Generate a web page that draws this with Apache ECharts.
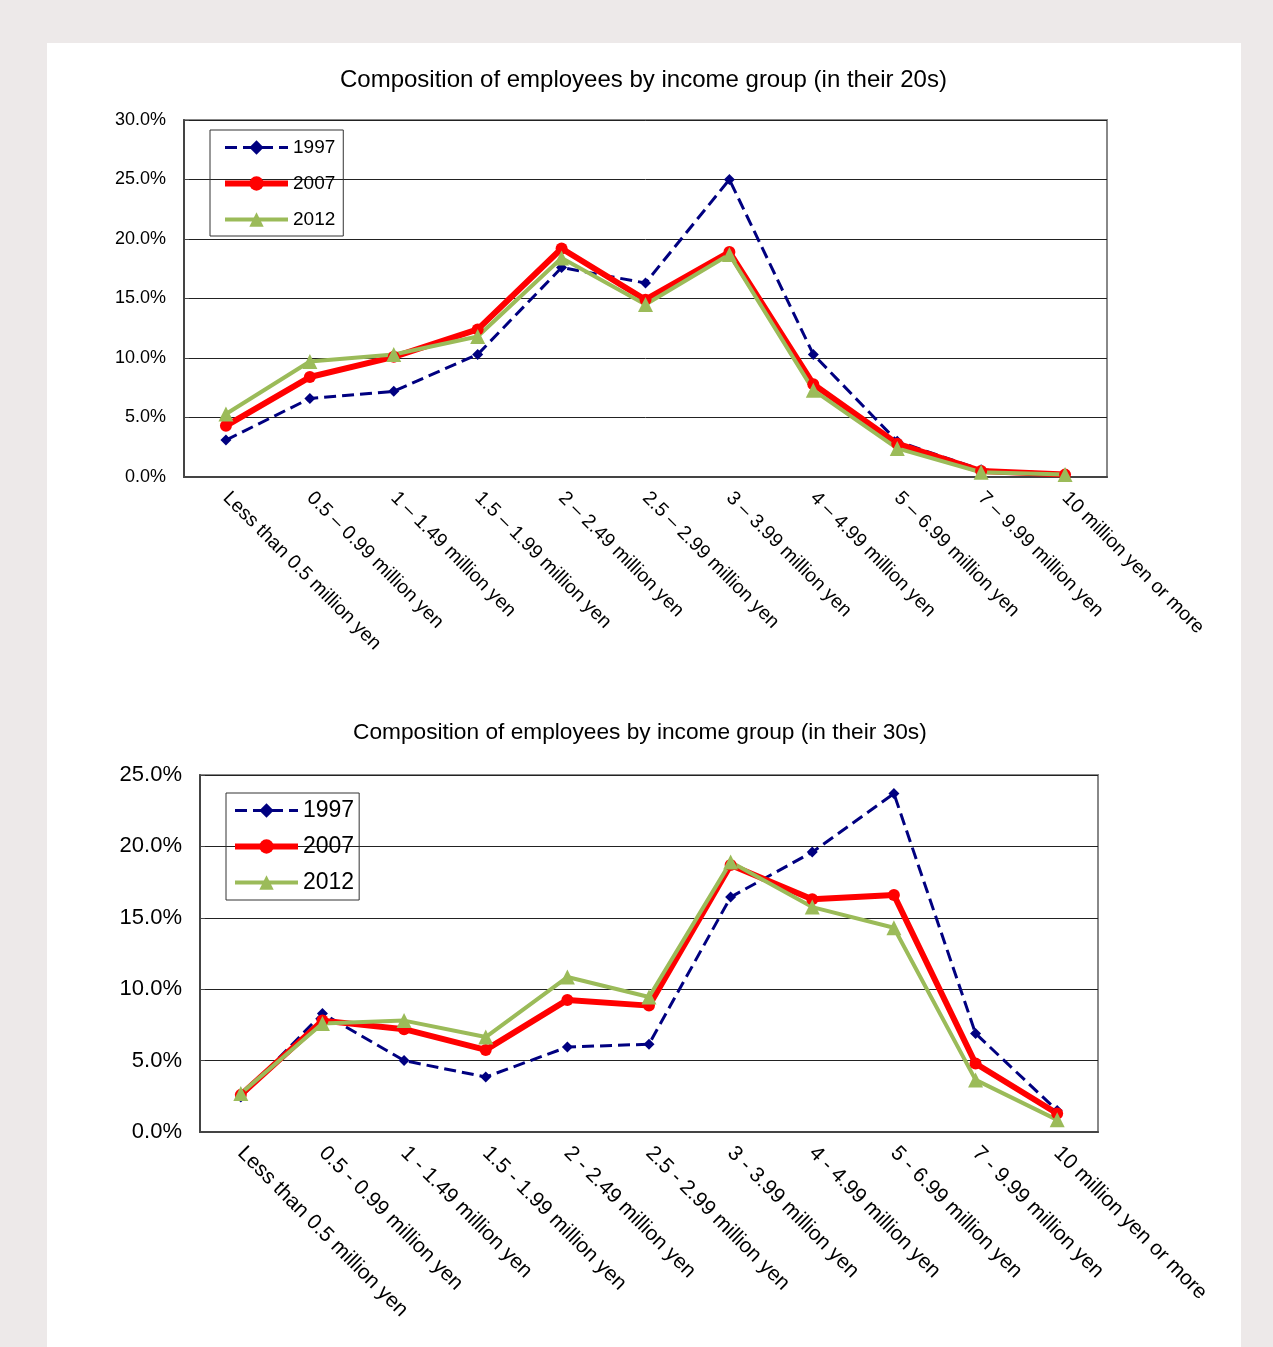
<!DOCTYPE html>
<html>
<head>
<meta charset="utf-8">
<script src="https://cdn.jsdelivr.net/npm/echarts@6/dist/echarts.min.js"></script>
<style>
  html, body { margin: 0; padding: 0; background: #ede9e9; }
  #panel { position: absolute; left: 47px; top: 43px; width: 1194px; height: 1304px; background: #fff; }
  #chart { position: absolute; left: 0; top: 0; width: 1273px; height: 1347px; }
</style>
</head>
<body>
<div id="panel"></div>
<div id="chart"></div>
<script>
// income groups (x axis)
var categories = [
    'Less than 0.5 million yen', '0.5 \u2013 0.99 million yen', '1 \u2013 1.49 million yen',
    '1.5 \u2013 1.99 million yen', '2 \u2013 2.49 million yen', '2.5 \u2013 2.99 million yen',
    '3 \u2013 3.99 million yen', '4 \u2013 4.99 million yen', '5 \u2013 6.99 million yen',
    '7 \u2013 9.99 million yen', '10 million yen or more'
];
var categories30 = categories.map(function (c) { return c.replace(' \u2013 ', ' - '); });

var years = ['1997', '2007', '2012'];

// in their 20s (%)
var twenties1997 = [3.1, 6.6, 7.2, 10.3, 17.6, 16.3, 25.0, 10.3, 3.0, 0.6, 0.25];
var twenties2007 = [4.3, 8.4, 10.1, 12.4, 19.2, 14.9, 18.9, 7.8, 2.8, 0.5, 0.2];
var twenties2012 = [5.3, 9.7, 10.3, 11.8, 18.4, 14.5, 18.7, 7.3, 2.4, 0.4, 0.2];

// in their 30s (%)
var thirties1997 = [2.45, 8.3, 5.0, 3.85, 5.95, 6.15, 16.45, 19.6, 23.7, 6.9, 1.5];
var thirties2007 = [2.6, 7.8, 7.2, 5.75, 9.25, 8.85, 18.7, 16.3, 16.6, 4.8, 1.3];
var thirties2012 = [2.7, 7.6, 7.8, 6.65, 10.85, 9.45, 18.9, 15.75, 14.3, 3.65, 0.85];

var titles = [
    'Composition of employees by income group (in their 20s)',
    'Composition of employees by income group (in their 30s)'
];

var chart = echarts.init(document.getElementById('chart'));
var font = 'Liberation Sans, Arial, sans-serif';

var styles = [
    { color: '#000080', width: 3, type: 'dashed', symbol: 'diamond', size: 11 },
    { color: '#ff0000', width: 6, type: 'solid', symbol: 'circle', size: 12 },
    { color: '#9bbb59', width: 4, type: 'solid', symbol: 'triangle', size: 15 }
];

function makeSeries(idx, data) {
    return data.map(function (d, i) {
        var s = styles[i];
        return {
            name: years[i],
            type: 'line',
            xAxisIndex: idx,
            yAxisIndex: idx,
            data: d,
            symbol: s.symbol,
            symbolSize: s.size,
            showAllSymbol: true,
            lineStyle: { color: s.color, width: s.width, type: s.type },
            itemStyle: { color: s.color },
            animation: false
        };
    });
}

function legendData() {
    return years.map(function (y, i) {
        var s = styles[i];
        return { name: y, lineStyle: { width: s.width, type: s.type, color: s.color } };
    });
}

function xAxis(idx, labels, fs) {
    return {
        type: 'category',
        gridIndex: idx,
        data: labels,
        boundaryGap: true,
        axisLine: { lineStyle: { color: '#444', width: 2 } },
        axisTick: { inside: true, length: 5, lineStyle: { color: '#444', width: 1.5 } },
        axisLabel: { rotate: -45, interval: 0, margin: 18, color: '#000', fontSize: fs, fontFamily: font }
    };
}

function yAxis(idx, max, fs) {
    return {
        type: 'value',
        gridIndex: idx,
        min: 0,
        max: max,
        interval: 5,
        axisLine: { show: true, lineStyle: { color: '#444', width: 2 } },
        axisTick: { show: true, inside: true, length: 5, lineStyle: { color: '#444' } },
        splitLine: { lineStyle: { color: '#222', width: 1 } },
        axisLabel: {
            color: '#000', fontSize: fs, fontFamily: font, margin: 18,
            formatter: function (v) { return v.toFixed(1) + '%'; }
        }
    };
}

var option = {
    backgroundColor: 'transparent',
    title: [
        { text: titles[0], left: 335, top: 63, textStyle: { fontSize: 24, fontWeight: 'normal', color: '#000', fontFamily: font } },
        { text: titles[1], left: 348, top: 716, textStyle: { fontSize: 22.7, fontWeight: 'normal', color: '#000', fontFamily: font } }
    ],
    legend: [
        {
            data: legendData(), orient: 'vertical', left: 210, top: 130,
            itemWidth: 63, itemHeight: 18, itemGap: 17,
            padding: [8, 8, 7, 12],
            borderColor: '#333', borderWidth: 1,
            textStyle: { fontSize: 19, color: '#000', fontFamily: font },
            selectedMode: false
        },
        {
            data: legendData(), orient: 'vertical', left: 226, top: 793,
            itemWidth: 63, itemHeight: 18, itemGap: 13,
            padding: [6, 5, 6, 6],
            borderColor: '#333', borderWidth: 1,
            textStyle: { fontSize: 23, color: '#000', fontFamily: font },
            selectedMode: false
        }
    ],
    grid: [
        { left: 184, top: 120, width: 923, height: 357, show: true, borderColor: '#888', borderWidth: 2, backgroundColor: 'transparent' },
        { left: 200, top: 775, width: 898, height: 357, show: true, borderColor: '#888', borderWidth: 2, backgroundColor: 'transparent' }
    ],
    xAxis: [xAxis(0, categories, 19.5), xAxis(1, categories30, 21)],
    yAxis: [yAxis(0, 30, 18), yAxis(1, 25, 22)],
    series: makeSeries(0, [twenties1997, twenties2007, twenties2012])
        .concat(makeSeries(1, [thirties1997, thirties2007, thirties2012]))
};

chart.setOption(option);
</script>
</body>
</html>
